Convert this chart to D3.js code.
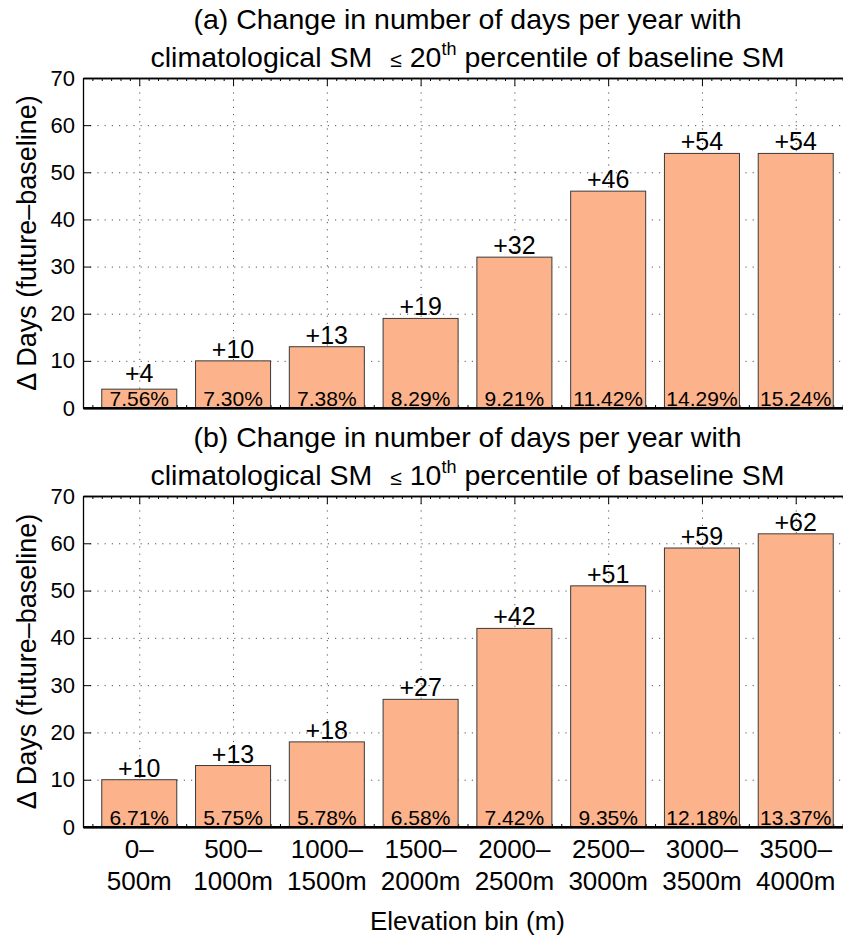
<!DOCTYPE html>
<html>
<head>
<meta charset="utf-8">
<script src="https://cdn.jsdelivr.net/npm/d3@7"></script>
<style>
  html, body { margin: 0; padding: 0; background: #fff; overflow: hidden; }
  svg { display: block; font-family: "Liberation Sans", Arial, Helvetica, sans-serif; }
</style>
</head>
<body>
<script>
// Elevation bins (two-line tick labels)
const binStart = ["0–", "500–", "1000–", "1500–", "2000–", "2500–", "3000–", "3500–"];
const binEnd   = ["500m", "1000m", "1500m", "2000m", "2500m", "3000m", "3500m", "4000m"];

// Panel (a): SM <= 20th percentile
const daysP20 = [4, 10, 13, 19, 32, 46, 54, 54];
const pctP20  = [7.56, 7.30, 7.38, 8.29, 9.21, 11.42, 14.29, 15.24];

// Panel (b): SM <= 10th percentile
const daysP10 = [10, 13, 18, 27, 42, 51, 59, 62];
const pctP10  = [6.71, 5.75, 5.78, 6.58, 7.42, 9.35, 12.18, 13.37];

const yTicks = [0, 10, 20, 30, 40, 50, 60, 70];
const titleLine1 = ["(a) Change in number of days per year with", "(b) Change in number of days per year with"];
const titlePct = ["20", "10"];

const W = 843, H = 936;
const barFill = "#FCB38B";
const svg = d3.select("body").append("svg").attr("width", W).attr("height", H);

const x = d3.scaleLinear().domain([0.4, 8.6]).range([83, 852]);
const xMajor = d3.range(1, 9);
const xMinor = d3.range(4, 87).map(d => d / 10).filter(d => Math.abs(d - Math.round(d)) > 1e-6);

const panels = [
  { top: 78,  bottom: 408, days: daysP20, pct: pctP20, t1: titleLine1[0], p: titlePct[0] },
  { top: 496, bottom: 827, days: daysP10, pct: pctP10, t1: titleLine1[1], p: titlePct[1] }
];

panels.forEach(pn => {
  const y = d3.scaleLinear().domain([0, 70]).range([pn.bottom, pn.top]);
  const g = svg.append("g");
  const x0 = x.range()[0], x1 = x.range()[1];

  // dotted grid
  g.append("g").attr("transform", `translate(${x0},0)`)
    .call(d3.axisLeft(y).tickValues(yTicks.slice(1, -1)).tickSizeInner(-(x1 - x0)).tickSizeOuter(0).tickFormat(""))
    .call(a => a.select(".domain").remove())
    .call(a => a.selectAll("line").attr("stroke", "#555").attr("stroke-width", 1).attr("stroke-dasharray", "1.2,6"));
  g.append("g").attr("transform", `translate(0,${pn.top})`)
    .call(d3.axisTop(x).tickValues(xMajor).tickSizeInner(-(pn.bottom - pn.top)).tickSizeOuter(0).tickFormat(""))
    .call(a => a.select(".domain").remove())
    .call(a => a.selectAll("line").attr("stroke", "#555").attr("stroke-width", 1).attr("stroke-dasharray", "1.2,6"));

  // box: top and bottom x axes with inward ticks
  const topAxis = g.append("g").attr("transform", `translate(0,${pn.top})`)
    .call(d3.axisTop(x).tickValues(xMajor).tickSizeInner(-8).tickSizeOuter(0).tickFormat(""));
  const topMinor = g.append("g").attr("transform", `translate(0,${pn.top})`)
    .call(d3.axisTop(x).tickValues(xMinor).tickSizeInner(-3).tickSizeOuter(0).tickFormat(""));
  const botAxis = g.append("g").attr("transform", `translate(0,${pn.bottom})`)
    .call(d3.axisBottom(x).tickValues(xMajor).tickSizeInner(-8).tickSizeOuter(0).tickFormat(""));
  const botMinor = g.append("g").attr("transform", `translate(0,${pn.bottom})`)
    .call(d3.axisBottom(x).tickValues(xMinor).tickSizeInner(-3).tickSizeOuter(0).tickFormat(""));
  [topAxis, topMinor, botAxis, botMinor].forEach(a => {
    a.selectAll("line").attr("stroke", "#000").attr("stroke-width", 1);
    a.select(".domain").attr("stroke", "#000").attr("stroke-width", 1.3);
  });
  botAxis.select(".domain").attr("stroke-width", 2);

  // left y axis
  const yAxis = g.append("g").attr("transform", `translate(${x0},0)`)
    .call(d3.axisLeft(y).tickValues(yTicks).tickSizeInner(-8).tickSizeOuter(0).tickPadding(8));
  yAxis.select(".domain").attr("stroke", "#000").attr("stroke-width", 1.3);
  yAxis.selectAll("line").attr("stroke", "#000").attr("stroke-width", 1);
  yAxis.selectAll("text").attr("font-size", 22).attr("fill", "#000")
    .attr("font-family", "'Liberation Sans', Arial, Helvetica, sans-serif");

  // bars
  g.append("g").selectAll("rect").data(pn.days).join("rect")
    .attr("x", (d, i) => x(i + 1 - 0.4))
    .attr("width", (d, i) => x(i + 1 + 0.4) - x(i + 1 - 0.4))
    .attr("y", d => y(d))
    .attr("height", d => y(0) - y(d))
    .attr("fill", barFill).attr("stroke", "#3a3a3a").attr("stroke-width", 1);

  // redraw zero line on top of bar edges
  g.append("line").attr("x1", x0).attr("x2", x1).attr("y1", y(0)).attr("y2", y(0))
    .attr("stroke", "#000").attr("stroke-width", 2);

  // value labels (kept clear of the percentage label on very short bars)
  g.append("g").selectAll("text").data(pn.days).join("text")
    .attr("x", (d, i) => x(i + 1)).attr("y", d => Math.min(y(d) - 3, y(0) - 26))
    .attr("text-anchor", "middle").attr("font-size", 25).attr("fill", "#000")
    .text(d => "+" + d);

  // percentage labels
  g.append("g").selectAll("text").data(pn.pct).join("text")
    .attr("x", (d, i) => x(i + 1)).attr("y", y(0) - 2)
    .attr("text-anchor", "middle").attr("font-size", 21).attr("fill", "#000")
    .text(d => d.toFixed(2) + "%");

  // title
  const cx = (x0 + x1) / 2;
  g.append("text").attr("x", cx).attr("y", pn.top - 49).attr("text-anchor", "middle")
    .attr("font-size", 28.5).attr("fill", "#000").text(pn.t1);
  const t2 = g.append("text").attr("x", cx).attr("y", pn.top - 11).attr("text-anchor", "middle")
    .attr("font-size", 28.5).attr("fill", "#000");
  t2.append("tspan").text("climatological SM");
  t2.append("tspan").attr("dx", 18).attr("font-size", 21).text("≤");
  t2.append("tspan").attr("dx", 8).text(pn.p);
  t2.append("tspan").attr("dy", -12).attr("font-size", 18).text("th");
  t2.append("tspan").attr("dy", 12).attr("dx", 8).text("percentile of baseline SM");

  // y label
  g.append("text").attr("transform", `translate(36,${(pn.top + pn.bottom) / 2}) rotate(-90)`)
    .attr("text-anchor", "middle").attr("font-size", 27).attr("fill", "#000")
    .text("Δ Days (future–baseline)");
});

// x tick labels (two lines) under the lower panel
const xl = svg.append("g").selectAll("text").data(binStart).join("text")
  .attr("text-anchor", "middle").attr("font-size", 26).attr("fill", "#000");
xl.append("tspan").attr("x", (d, i) => x(i + 1)).attr("y", 858).text(d => d);
xl.append("tspan").attr("x", (d, i) => x(i + 1)).attr("y", 890).text((d, i) => binEnd[i]);

svg.append("text").attr("x", (x.range()[0] + x.range()[1]) / 2).attr("y", 930)
  .attr("text-anchor", "middle").attr("font-size", 26).attr("fill", "#000")
  .text("Elevation bin (m)");
</script>
</body>
</html>
